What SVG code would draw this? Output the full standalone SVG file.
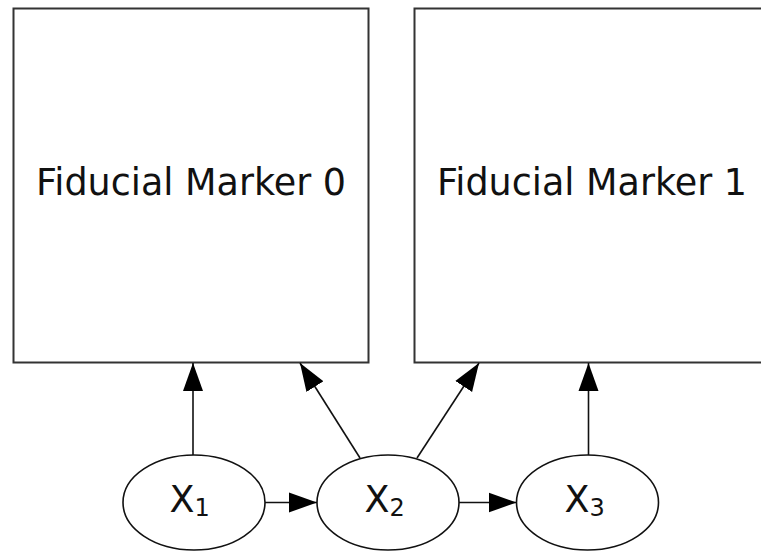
<svg xmlns="http://www.w3.org/2000/svg" width="761" height="552" viewBox="0 0 761 552">
<style>
.box{fill:#fff;stroke:#333;stroke-width:2}
.ell{fill:#fff;stroke:#111;stroke-width:1.6}
.lbl{font-family:"DejaVu Sans",sans-serif;font-size:36.5px;fill:#111}
.mid{text-anchor:middle}
.sub{font-size:24px}
.edge{stroke:#111;stroke-width:1.6;fill:none;marker-end:url(#ah)}
</style>
<defs>
<marker id="ah" markerUnits="userSpaceOnUse" markerWidth="30" markerHeight="22" refX="28" refY="10" orient="auto" viewBox="0 0 30 20">
<path d="M0,0 L28,10 L0,20 z" fill="#000"/>
</marker>
</defs>
<rect width="761" height="552" fill="#fff"/>
<g id="marker0">
<rect class="box" x="13.5" y="8.5" width="355" height="354"/>
<text class="lbl mid" x="191" y="195">Fiducial Marker 0</text>
</g>
<g id="marker1">
<rect class="box" x="414.5" y="8.5" width="355" height="354"/>
<text class="lbl mid" x="592" y="195">Fiducial Marker 1</text>
</g>
<g id="x1">
<ellipse class="ell" cx="194" cy="502.5" rx="71" ry="47.5"/>
<text class="lbl" x="169.5" y="511.5">X<tspan class="sub" dy="4.5">1</tspan></text>
</g>
<g id="x2">
<ellipse class="ell" cx="388" cy="502.5" rx="71" ry="47.5"/>
<text class="lbl" x="364.5" y="511.5">X<tspan class="sub" dy="4.5">2</tspan></text>
</g>
<g id="x3">
<ellipse class="ell" cx="587.5" cy="502.5" rx="71" ry="47.5"/>
<text class="lbl" x="564.5" y="511.5">X<tspan class="sub" dy="4.5">3</tspan></text>
</g>
<g id="connectors">
<line class="edge" x1="193" y1="455" x2="193" y2="363"/>
<line class="edge" x1="360" y1="458" x2="300" y2="363"/>
<line class="edge" x1="417" y1="458" x2="479" y2="363"/>
<line class="edge" x1="588.5" y1="455" x2="588.5" y2="363"/>
<line class="edge" x1="265" y1="502.5" x2="317" y2="502.5"/>
<line class="edge" x1="459" y1="502.5" x2="516.5" y2="502.5"/>
</g>
</svg>
